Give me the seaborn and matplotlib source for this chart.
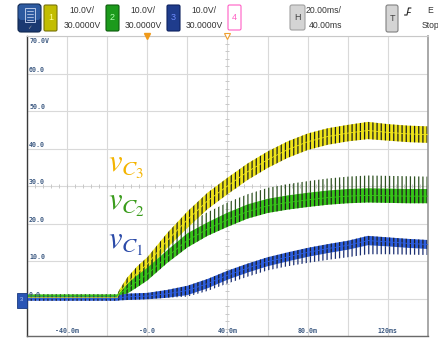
import numpy as np
import pandas as pd
import matplotlib
matplotlib.use("Agg")
import matplotlib.pyplot as plt
import seaborn as sns
from matplotlib.patches import FancyBboxPatch, Rectangle
from matplotlib.lines import Line2D
from matplotlib.transforms import IdentityTransform

# ---------------- data ----------------
time_ms = [-60, -15, -14, -10, -5, 0, 10, 20, 30, 40, 50, 60, 70, 80, 90, 100, 110, 120, 130, 140]

vc3_low  = [-0.2, -0.2, 0.7, 2.4, 5.0, 7.4, 13.5, 18.8, 23.8, 27.8, 31.6, 34.8, 37.5, 39.6, 41.0, 41.9, 42.5, 42.1, 41.7, 41.5]
vc3_high = [0.6, 0.6, 2.3, 5.6, 8.6, 11.0, 17.5, 23.2, 28.2, 32.2, 36.0, 39.2, 41.9, 44.0, 45.4, 46.3, 47.1, 46.5, 46.1, 45.9]

vc2_low   = [0.3, 0.3, 0.5, 1.3, 3.0, 4.8, 9.5, 13.6, 16.7, 19.1, 21.3, 22.8, 23.7, 24.4, 25.0, 25.4, 25.6, 25.5, 25.4, 25.4]
vc2_high  = [1.1, 1.1, 1.9, 3.9, 6.2, 8.2, 12.9, 17.4, 20.3, 22.9, 25.1, 26.6, 27.5, 28.2, 28.8, 29.2, 29.4, 29.3, 29.2, 29.2]
vc2_spike = [1.1, 1.1, 2.2, 4.6, 7.2, 9.3, 15.0, 20.0, 23.0, 25.6, 27.8, 29.5, 30.5, 31.3, 32.0, 32.5, 32.8, 32.7, 32.6, 32.5]

vc1_low   = [-0.6, -0.6, -0.5, -0.4, -0.3, -0.2, 0.2, 0.9, 2.7, 5.0, 6.9, 8.6, 9.9, 11.1, 12.1, 13.0, 14.2, 13.9, 13.5, 13.2]
vc1_high  = [0.5, 0.5, 0.9, 1.3, 1.4, 1.5, 2.3, 3.4, 5.2, 7.4, 9.3, 11.0, 12.3, 13.5, 14.5, 15.4, 16.7, 16.3, 15.9, 15.6]
vc1_spike = [-0.6, -0.6, -0.5, -0.4, -0.3, -0.2, 0.2, 0.5, 2.0, 4.0, 5.8, 7.5, 8.6, 9.5, 10.3, 11.0, 11.8, 11.8, 11.7, 11.6]

channels = ["vC3", "vC2", "vC1"]
channel_colors = {"vC3": "#eee41a", "vC2": "#36c418", "vC1": "#2d5ddc"}
label_texts = [r"$v_{C_3}$", r"$v_{C_2}$", r"$v_{C_1}$"]
label_colors = ["#f4b400", "#3a9c1c", "#2b4aa8"]

x_tick_vals = [-40, 0, 40, 80, 120]
x_tick_labels = ["-40.0m", "-0.0", "40.0m", "80.0m", "120ms"]
y_tick_vals = [70, 60, 50, 40, 30, 20, 10, 0]
y_tick_labels = ["70.0V", "60.0", "50.0", "40.0", "30.0", "20.0", "10.0", "0.0"]

# ---------------- style ----------------
W, H = 439, 345
sns.set_theme(style="white")
plt.rcParams["font.family"] = ["Liberation Sans", "DejaVu Sans"]
plt.rcParams["mathtext.fontset"] = "stix"
plt.rcParams["hatch.linewidth"] = 0.9
plt.rcParams["hatch.color"] = "#222222"

fig = plt.figure(figsize=(W / 100, H / 100), dpi=100)
fig.patch.set_facecolor("white")
PIX = IdentityTransform()

ax = fig.add_axes([27 / W, (H - 336) / H, 401 / W, 300 / H])
ax.set_facecolor("white")
ax.set_xlim(-60, 140)
ax.set_ylim(-10, 70)
ax.set_xticks(np.arange(-60, 141, 20))
ax.set_yticks(np.arange(-10, 71, 10))
ax.tick_params(length=0, labelbottom=False, labelleft=False)
ax.grid(True, color="#d9d9d9", lw=0.8)
for side, col, lw in [("left", "#3a3a3a", 1.0), ("bottom", "#6a6a6a", 1.0),
                      ("right", "#9a9a9a", 1.2), ("top", "#c8c8c8", 0.8)]:
    ax.spines[side].set_visible(True)
    ax.spines[side].set_color(col)
    ax.spines[side].set_linewidth(lw)

# centre-axis minor ticks (oscilloscope graticule)
ax.plot(np.arange(-60, 141, 4), np.full(51, 30.0), ls="none", marker="|", ms=3,
        color="#c8c8c8", mew=0.7, zorder=1)
ax.plot(np.full(41, 40.0), np.arange(-10, 71, 2), ls="none", marker="_", ms=3,
        color="#c8c8c8", mew=0.7, zorder=1)

# ---------------- traces ----------------
# sparse ripple spikes outside the dense band
ax.fill_between(time_ms, vc2_high, vc2_spike, facecolor="none", edgecolor="#2f5222",
                hatch="||||", linewidth=0, zorder=2)
ax.fill_between(time_ms, vc1_spike, vc1_low, facecolor="none", edgecolor="#1c2f72",
                hatch="||||", linewidth=0, zorder=2)

rows = []
for name, lo, hi in [("vC3", vc3_low, vc3_high), ("vC2", vc2_low, vc2_high), ("vC1", vc1_low, vc1_high)]:
    for t, a, b in zip(time_ms, lo, hi):
        rows.append((name, t, a))
        rows.append((name, t, b))
df = pd.DataFrame(rows, columns=["channel", "t", "v"])

sns.lineplot(data=df, x="t", y="v", hue="channel", hue_order=channels,
             palette=channel_colors, estimator="mean", errorbar=("pi", 100),
             err_kws=dict(alpha=1, hatch="||||", edgecolor="#1e1e1e", linewidth=0),
             linewidth=0.6, legend=False, ax=ax, zorder=3)
ax.set_xlabel("")
ax.set_ylabel("")

# ---------------- labels on the axes ----------------
lab_font = dict(family="DejaVu Sans Mono", fontsize=4.8, color="#3d5a82", fontweight="bold")
for v, s in zip(y_tick_vals, y_tick_labels):
    if v == 70:
        ax.annotate(s, (-60, v), xytext=(1.5, -1.5), textcoords="offset points",
                    ha="left", va="top", **lab_font)
    else:
        ax.annotate(s, (-60, v), xytext=(1.5, 0.6), textcoords="offset points",
                    ha="left", va="bottom", **lab_font, zorder=2)
for t, s in zip(x_tick_vals, x_tick_labels):
    ax.annotate(s, (t, -10), xytext=(0, 1.5), textcoords="offset points",
                ha="center", va="bottom", **lab_font)

label_pos = [(-19.5, 33.8), (-19.5, 23.6), (-19.5, 13.2)]
for (t, v), s, c in zip(label_pos, label_texts, label_colors):
    ax.text(t, v, s, color=c, fontsize=22, ha="left", va="baseline", zorder=5)

# trigger / delay markers on the top edge
ax.plot([0], [70], marker="v", ms=5, color="#f09a1a", clip_on=False, zorder=6, ls="none")
ax.plot([40], [70], marker="v", ms=5, mfc="white", mec="#f0a030", mew=0.8,
        clip_on=False, zorder=6, ls="none")

# ---------------- header (oscilloscope status bar) ----------------
def box(x0, y0, x1, y1, fc, ec, r=2.0, lw=0.8):
    p = FancyBboxPatch((x0, H - y1), x1 - x0, y1 - y0,
                       boxstyle=f"round,pad=0,rounding_size={r}",
                       fc=fc, ec=ec, lw=lw, transform=PIX)
    fig.add_artist(p)

def txt(x, y, s, **kw):
    kw.setdefault("ha", "center")
    kw.setdefault("va", "center")
    fig.text(x, H - y, s, transform=PIX, **kw)

def line(xs, ys, **kw):
    fig.add_artist(Line2D(xs, [H - y for y in ys], transform=PIX, **kw))

# menu icon
box(18, 4, 41, 32, "#1b3a72", "#102850", r=3)
box(18.5, 4.5, 40.5, 20, "#2d5aa0", "none", r=3, lw=0)
fig.add_artist(Rectangle((25, H - 22), 10, 14, fc="none", ec="#b8c8e8", lw=0.7, transform=PIX))
for yy in (11, 14, 17, 20):
    line([27, 33], [yy, yy], color="#b8c8e8", lw=0.6)
txt(29.5, 28, "\u2713", fontsize=4, color="#a0a0a0", family="DejaVu Sans")

hdr = dict(fontsize=6.2, color="#333333")
# channel 1
box(44, 5, 57, 31, "#c2bd00", "#77730a", r=1.5)
txt(50.5, 18, "1", fontsize=6.5, color="#ffff90")
txt(82, 10.5, "10.0V/", **hdr)
txt(82, 25, "30.0000V", **hdr)
# channel 2
box(106, 5, 119, 31, "#1c9a1c", "#0c5c0c", r=1.5)
txt(112.5, 18, "2", fontsize=6.5, color="#b0ffb0")
txt(143, 10.5, "10.0V/", **hdr)
txt(143, 25, "30.0000V", **hdr)
# channel 3
box(167, 5, 180, 31, "#1f3c8c", "#0e2260", r=1.5)
txt(173.5, 18, "3", fontsize=6.5, color="#6f8cff")
txt(204, 10.5, "10.0V/", **hdr)
txt(204, 25, "30.0000V", **hdr)
# channel 4
box(228, 5, 241, 30, "white", "#ff5ec4", r=1.5)
txt(234.5, 17.5, "4", fontsize=6.5, color="#ff5ec4")
# horizontal
box(290, 5, 305, 30, "#d4d4d4", "#a0a0a0", r=2)
txt(297.5, 17.5, "H", fontsize=6.5, color="#404040")
txt(323, 10.5, "20.00ms/", **hdr)
txt(326, 25, "40.00ms", **hdr)
# trigger
box(386, 5, 398, 32, "#d4d4d4", "#808080", r=2)
txt(392, 18.5, "T", fontsize=6.5, color="#404040")
line([404.5, 407, 408.5, 411], [15, 15, 8, 8], color="#222222", lw=0.8)
line([406.5, 410], [11.5, 11.5], color="#222222", lw=0.6)
txt(427, 10.5, "E", ha="left", **hdr)
txt(422, 25, "Stop", ha="left", **hdr)

# ground reference marker
fig.add_artist(Rectangle((17, H - 308), 10, 15, fc="#2a55b5", ec="#1a3a80", lw=0.6, transform=PIX))
txt(21.5, 299.5, "3", fontsize=4, color="#c8d8ff")

fig.savefig("out.png", dpi=100)
